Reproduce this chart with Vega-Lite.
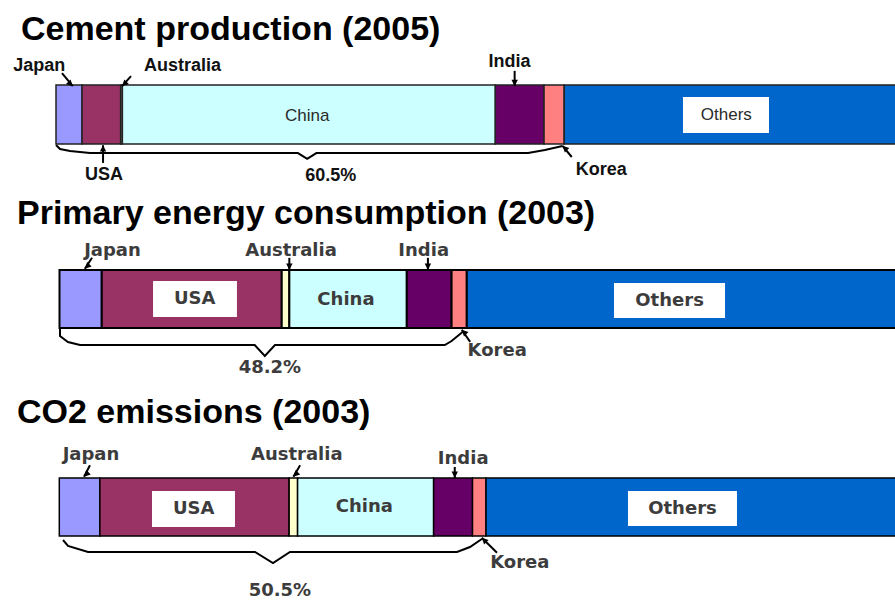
{
  "$schema": "https://vega.github.io/schema/vega-lite/v6.json",
  "padding": {"left": 0, "top": 13, "right": 0, "bottom": 0},
  "spacing": 0,
  "background": "#ffffff",
  "config": {"view": {"stroke": null}},
  "resolve": {"scale": {"x": "independent", "y": "independent"}},
  "datasets": {
    "segments": [
      {"chart": "cement", "country": "Japan", "rank": 1, "share": 3.1},
      {"chart": "cement", "country": "USA", "rank": 2, "share": 4.6},
      {"chart": "cement", "country": "Australia", "rank": 3, "share": 0.2},
      {"chart": "cement", "country": "China", "rank": 4, "share": 44.4},
      {"chart": "cement", "country": "India", "rank": 5, "share": 5.8},
      {"chart": "cement", "country": "Korea", "rank": 6, "share": 2.4},
      {"chart": "cement", "country": "Others", "rank": 7, "share": 39.5},
      {"chart": "energy", "country": "Japan", "rank": 1, "share": 5.0},
      {"chart": "energy", "country": "USA", "rank": 2, "share": 21.3},
      {"chart": "energy", "country": "Australia", "rank": 3, "share": 0.9},
      {"chart": "energy", "country": "China", "rank": 4, "share": 13.9},
      {"chart": "energy", "country": "India", "rank": 5, "share": 5.3},
      {"chart": "energy", "country": "Korea", "rank": 6, "share": 1.8},
      {"chart": "energy", "country": "Others", "rank": 7, "share": 51.8},
      {"chart": "co2", "country": "Japan", "rank": 1, "share": 4.8},
      {"chart": "co2", "country": "USA", "rank": 2, "share": 22.4},
      {"chart": "co2", "country": "Australia", "rank": 3, "share": 1.0},
      {"chart": "co2", "country": "China", "rank": 4, "share": 16.1},
      {"chart": "co2", "country": "India", "rank": 5, "share": 4.6},
      {"chart": "co2", "country": "Korea", "rank": 6, "share": 1.6},
      {"chart": "co2", "country": "Others", "rank": 7, "share": 49.5}
    ],
    "labels": [
      {"chart": "cement", "label": "Japan", "kind": "outer", "x": -2.0, "y": 1.32},
      {"chart": "cement", "label": "Australia", "kind": "outer", "x": 15.06, "y": 1.32},
      {"chart": "cement", "label": "India", "kind": "outer", "x": 54.0, "y": 1.39},
      {"chart": "cement", "label": "USA", "kind": "outer", "x": 5.7, "y": -0.525},
      {"chart": "cement", "label": "Korea", "kind": "outer", "x": 64.9, "y": -0.44},
      {"chart": "cement", "label": "60.5%", "kind": "outer", "x": 32.7, "y": -0.54},
      {"chart": "cement", "label": "China", "kind": "inner", "x": 29.9, "y": 0.47},
      {"chart": "cement", "label": "Others", "kind": "inner", "x": 79.8, "y": 0.49},
      {"chart": "energy", "label": "Japan", "kind": "outer", "x": 6.27, "y": 1.33},
      {"chart": "energy", "label": "Australia", "kind": "outer", "x": 27.4, "y": 1.33},
      {"chart": "energy", "label": "India", "kind": "outer", "x": 43.1, "y": 1.33},
      {"chart": "energy", "label": "Korea", "kind": "outer", "x": 51.8, "y": -0.4},
      {"chart": "energy", "label": "48.2%", "kind": "outer", "x": 24.9, "y": -0.69},
      {"chart": "energy", "label": "USA", "kind": "inner", "x": 16.0, "y": 0.5},
      {"chart": "energy", "label": "China", "kind": "inner", "x": 33.9, "y": 0.48},
      {"chart": "energy", "label": "Others", "kind": "inner", "x": 72.2, "y": 0.47},
      {"chart": "co2", "label": "Japan", "kind": "outer", "x": 3.75, "y": 1.4},
      {"chart": "co2", "label": "Australia", "kind": "outer", "x": 28.1, "y": 1.4},
      {"chart": "co2", "label": "India", "kind": "outer", "x": 47.8, "y": 1.33},
      {"chart": "co2", "label": "Korea", "kind": "outer", "x": 54.5, "y": -0.47},
      {"chart": "co2", "label": "50.5%", "kind": "outer", "x": 26.1, "y": -0.95},
      {"chart": "co2", "label": "USA", "kind": "inner", "x": 15.9, "y": 0.47},
      {"chart": "co2", "label": "China", "kind": "inner", "x": 36.1, "y": 0.5},
      {"chart": "co2", "label": "Others", "kind": "inner", "x": 73.75, "y": 0.47}
    ],
    "boxes": [
      {"chart": "cement", "label": "Others", "x1": 74.64, "x2": 84.88, "y1": 0.186, "y2": 0.797},
      {"chart": "energy", "label": "USA", "x1": 11.07, "x2": 21.0, "y1": 0.19, "y2": 0.81},
      {"chart": "energy", "label": "Others", "x1": 65.62, "x2": 78.76, "y1": 0.172, "y2": 0.776},
      {"chart": "co2", "label": "USA", "x1": 10.97, "x2": 20.79, "y1": 0.155, "y2": 0.776},
      {"chart": "co2", "label": "Others", "x1": 67.3, "x2": 80.2, "y1": 0.172, "y2": 0.776}
    ],
    "arrows": [
      {"chart": "cement", "label": "Japan", "x": 0.71, "y": 1.2, "hx": 2.0, "hy": 0.98, "dir": "downright"},
      {"chart": "cement", "label": "Australia", "x": 8.93, "y": 1.15, "hx": 7.86, "hy": 0.98, "dir": "downleft"},
      {"chart": "cement", "label": "India", "x": 54.6, "y": 1.24, "hx": 54.6, "hy": 0.98, "dir": "down"},
      {"chart": "cement", "label": "USA", "x": 5.6, "y": -0.32, "hx": 5.6, "hy": -0.02, "dir": "up"},
      {"chart": "cement", "label": "Korea", "x": 61.4, "y": -0.22, "hx": 60.3, "hy": -0.03, "dir": "upleft"},
      {"chart": "energy", "label": "Japan", "x": 3.85, "y": 1.21, "hx": 3.0, "hy": 1.02, "dir": "downleft"},
      {"chart": "energy", "label": "Australia", "x": 27.2, "y": 1.21, "hx": 27.2, "hy": 1.0, "dir": "down"},
      {"chart": "energy", "label": "India", "x": 43.6, "y": 1.21, "hx": 43.6, "hy": 1.0, "dir": "down"},
      {"chart": "energy", "label": "Korea", "x": 48.6, "y": -0.24, "hx": 47.6, "hy": -0.03, "dir": "upleft"},
      {"chart": "co2", "label": "Japan", "x": 3.63, "y": 1.22, "hx": 2.92, "hy": 1.02, "dir": "downleft"},
      {"chart": "co2", "label": "Australia", "x": 28.5, "y": 1.22, "hx": 27.7, "hy": 1.02, "dir": "downleft"},
      {"chart": "co2", "label": "India", "x": 46.8, "y": 1.19, "hx": 46.8, "hy": 1.0, "dir": "down"},
      {"chart": "co2", "label": "Korea", "x": 51.8, "y": -0.29, "hx": 50.0, "hy": -0.03, "dir": "upleft"}
    ],
    "braces": [
      {"chart": "cement", "i": 1, "x": 0.0, "y": -0.017},
      {"chart": "cement", "i": 2, "x": 0.48, "y": -0.085},
      {"chart": "cement", "i": 3, "x": 1.67, "y": -0.12},
      {"chart": "cement", "i": 4, "x": 4.05, "y": -0.153},
      {"chart": "cement", "i": 5, "x": 28.8, "y": -0.153},
      {"chart": "cement", "i": 6, "x": 29.9, "y": -0.25},
      {"chart": "cement", "i": 7, "x": 31.0, "y": -0.153},
      {"chart": "cement", "i": 8, "x": 56.2, "y": -0.153},
      {"chart": "cement", "i": 9, "x": 58.2, "y": -0.1},
      {"chart": "cement", "i": 10, "x": 60.3, "y": -0.034},
      {"chart": "energy", "i": 1, "x": 0.06, "y": -0.017},
      {"chart": "energy", "i": 2, "x": 0.06, "y": -0.138},
      {"chart": "energy", "i": 3, "x": 1.0, "y": -0.241},
      {"chart": "energy", "i": 4, "x": 2.43, "y": -0.293},
      {"chart": "energy", "i": 5, "x": 23.1, "y": -0.293},
      {"chart": "energy", "i": 6, "x": 24.3, "y": -0.483},
      {"chart": "energy", "i": 7, "x": 25.5, "y": -0.293},
      {"chart": "energy", "i": 8, "x": 45.6, "y": -0.293},
      {"chart": "energy", "i": 9, "x": 46.4, "y": -0.224},
      {"chart": "energy", "i": 10, "x": 47.7, "y": -0.069},
      {"chart": "co2", "i": 1, "x": 0.44, "y": -0.069},
      {"chart": "co2", "i": 2, "x": 1.03, "y": -0.172},
      {"chart": "co2", "i": 3, "x": 3.4, "y": -0.276},
      {"chart": "co2", "i": 4, "x": 23.16, "y": -0.276},
      {"chart": "co2", "i": 5, "x": 25.29, "y": -0.466},
      {"chart": "co2", "i": 6, "x": 27.3, "y": -0.276},
      {"chart": "co2", "i": 7, "x": 47.07, "y": -0.276},
      {"chart": "co2", "i": 8, "x": 48.6, "y": -0.19},
      {"chart": "co2", "i": 9, "x": 50.0, "y": -0.052}
    ]
  },
  "vconcat": [
    {
      "width": 895,
      "height": 148,
      "title": {"text": "Cement production (2005)", "anchor": "start", "font": "Liberation Sans", "fontSize": 34, "fontWeight": "bold", "color": "#000000", "baseline": "top", "offset": 2, "dx": 21},
      "layer": [
        {
          "data": {"name": "segments"},
          "transform": [
            {"filter": "datum.chart === 'cement'"},
            {"stack": "share", "groupby": ["chart"], "sort": [{"field": "rank", "order": "ascending"}], "as": ["start", "end"]}
          ],
          "mark": {"type": "rect", "stroke": "#222222", "strokeWidth": 1.5, "clip": true},
          "encoding": {
            "x": {"field": "start", "type": "quantitative", "scale": {"domain": [-6.667, 99.88], "nice": false, "zero": false}, "axis": null},
            "x2": {"field": "end"},
            "y": {"datum": 0, "type": "quantitative", "scale": {"domain": [-0.898, 1.61], "nice": false, "zero": false}, "axis": null},
            "y2": {"datum": 1},
            "color": {"field": "country", "type": "nominal", "legend": null, "scale": {"domain": ["Japan", "USA", "Australia", "China", "India", "Korea", "Others"], "range": ["#9999ff", "#993366", "#ffffcc", "#ccffff", "#660066", "#ff8080", "#0066cc"]}}
          }
        },
        {
          "data": {"name": "boxes"},
          "transform": [{"filter": "datum.chart === 'cement'"}],
          "mark": {"type": "rect", "color": "#ffffff"},
          "encoding": {
            "x": {"field": "x1", "type": "quantitative"},
            "x2": {"field": "x2"},
            "y": {"field": "y1", "type": "quantitative"},
            "y2": {"field": "y2"}
          }
        },
        {
          "data": {"name": "braces"},
          "transform": [{"filter": "datum.chart === 'cement'"}],
          "mark": {"type": "line", "color": "#000000", "strokeWidth": 2},
          "encoding": {
            "x": {"field": "x", "type": "quantitative"},
            "y": {"field": "y", "type": "quantitative"},
            "order": {"field": "i", "type": "quantitative"}
          }
        },
        {
          "data": {"name": "arrows"},
          "transform": [{"filter": "datum.chart === 'cement'"}],
          "mark": {"type": "rule", "color": "#000000", "strokeWidth": 2},
          "encoding": {
            "x": {"field": "x", "type": "quantitative"},
            "y": {"field": "y", "type": "quantitative"},
            "x2": {"field": "hx"},
            "y2": {"field": "hy"}
          }
        },
        {
          "data": {"name": "arrows"},
          "transform": [{"filter": "datum.chart === 'cement'"}],
          "mark": {"type": "point", "filled": true, "color": "#000000", "opacity": 1, "size": 64, "strokeWidth": 0},
          "encoding": {
            "x": {"field": "hx", "type": "quantitative"},
            "y": {"field": "hy", "type": "quantitative"},
            "shape": {"field": "dir", "type": "nominal", "legend": null, "scale": {"domain": ["down", "up", "downright", "downleft", "upleft"], "range": ["M0,0L-0.8,-1.6L0.8,-1.6Z", "M0,0L-0.8,1.6L0.8,1.6Z", "M0,0L-0.57,-1.7L-1.7,-0.57Z", "M0,0L0.57,-1.7L1.7,-0.57Z", "M0,0L0.57,1.7L1.7,0.57Z"]}}
          }
        },
        {
          "data": {"name": "labels"},
          "transform": [{"filter": "datum.chart === 'cement' && datum.kind === 'outer'"}],
          "mark": {"type": "text", "font": "Liberation Sans", "fontWeight": "bold", "fontSize": 18, "color": "#111111", "align": "center", "baseline": "middle"},
          "encoding": {
            "x": {"field": "x", "type": "quantitative"},
            "y": {"field": "y", "type": "quantitative"},
            "text": {"field": "label", "type": "nominal"}
          }
        },
        {
          "data": {"name": "labels"},
          "transform": [{"filter": "datum.chart === 'cement' && datum.kind === 'inner'"}],
          "mark": {"type": "text", "font": "Liberation Sans", "fontWeight": "normal", "fontSize": 17, "color": "#2a2a2a", "align": "center", "baseline": "middle"},
          "encoding": {
            "x": {"field": "x", "type": "quantitative"},
            "y": {"field": "y", "type": "quantitative"},
            "text": {"field": "label", "type": "nominal"}
          }
        }
      ]
    },
    {
      "width": 895,
      "height": 163,
      "title": {"text": "Primary energy consumption (2003)", "anchor": "start", "font": "Liberation Sans", "fontSize": 34, "fontWeight": "bold", "color": "#000000", "baseline": "top", "offset": 2, "dx": 17},
      "layer": [
        {
          "data": {"name": "segments"},
          "transform": [
            {"filter": "datum.chart === 'energy'"},
            {"stack": "share", "groupby": ["chart"], "sort": [{"field": "rank", "order": "ascending"}], "as": ["start", "end"]}
          ],
          "mark": {"type": "rect", "stroke": "#000000", "strokeWidth": 2, "clip": true},
          "encoding": {
            "x": {"field": "start", "type": "quantitative", "scale": {"domain": [-7.041, 98.876], "nice": false, "zero": false}, "axis": null},
            "x2": {"field": "end"},
            "y": {"datum": 0, "type": "quantitative", "scale": {"domain": [-1.172, 1.638], "nice": false, "zero": false}, "axis": null},
            "y2": {"datum": 1},
            "color": {"field": "country", "type": "nominal", "legend": null, "scale": {"domain": ["Japan", "USA", "Australia", "China", "India", "Korea", "Others"], "range": ["#9999ff", "#993366", "#ffffcc", "#ccffff", "#660066", "#ff8080", "#0066cc"]}}
          }
        },
        {
          "data": {"name": "boxes"},
          "transform": [{"filter": "datum.chart === 'energy'"}],
          "mark": {"type": "rect", "color": "#ffffff"},
          "encoding": {
            "x": {"field": "x1", "type": "quantitative"},
            "x2": {"field": "x2"},
            "y": {"field": "y1", "type": "quantitative"},
            "y2": {"field": "y2"}
          }
        },
        {
          "data": {"name": "braces"},
          "transform": [{"filter": "datum.chart === 'energy'"}],
          "mark": {"type": "line", "color": "#000000", "strokeWidth": 2},
          "encoding": {
            "x": {"field": "x", "type": "quantitative"},
            "y": {"field": "y", "type": "quantitative"},
            "order": {"field": "i", "type": "quantitative"}
          }
        },
        {
          "data": {"name": "arrows"},
          "transform": [{"filter": "datum.chart === 'energy'"}],
          "mark": {"type": "rule", "color": "#000000", "strokeWidth": 2},
          "encoding": {
            "x": {"field": "x", "type": "quantitative"},
            "y": {"field": "y", "type": "quantitative"},
            "x2": {"field": "hx"},
            "y2": {"field": "hy"}
          }
        },
        {
          "data": {"name": "arrows"},
          "transform": [{"filter": "datum.chart === 'energy'"}],
          "mark": {"type": "point", "filled": true, "color": "#000000", "opacity": 1, "size": 64, "strokeWidth": 0},
          "encoding": {
            "x": {"field": "hx", "type": "quantitative"},
            "y": {"field": "hy", "type": "quantitative"},
            "shape": {"field": "dir", "type": "nominal", "legend": null, "scale": {"domain": ["down", "up", "downright", "downleft", "upleft"], "range": ["M0,0L-0.8,-1.6L0.8,-1.6Z", "M0,0L-0.8,1.6L0.8,1.6Z", "M0,0L-0.57,-1.7L-1.7,-0.57Z", "M0,0L0.57,-1.7L1.7,-0.57Z", "M0,0L0.57,1.7L1.7,0.57Z"]}}
          }
        },
        {
          "data": {"name": "labels"},
          "transform": [{"filter": "datum.chart === 'energy'"}],
          "mark": {"type": "text", "font": "DejaVu Sans", "fontWeight": "bold", "fontSize": 18, "color": "#3c3c3c", "align": "center", "baseline": "middle"},
          "encoding": {
            "x": {"field": "x", "type": "quantitative"},
            "y": {"field": "y", "type": "quantitative"},
            "text": {"field": "label", "type": "nominal"}
          }
        }
      ]
    },
    {
      "width": 895,
      "height": 169,
      "title": {"text": "CO2 emissions (2003)", "anchor": "start", "font": "Liberation Sans", "fontSize": 34, "fontWeight": "bold", "color": "#000000", "baseline": "top", "offset": 2, "dx": 17},
      "layer": [
        {
          "data": {"name": "segments"},
          "transform": [
            {"filter": "datum.chart === 'co2'"},
            {"stack": "share", "groupby": ["chart"], "sort": [{"field": "rank", "order": "ascending"}], "as": ["start", "end"]}
          ],
          "mark": {"type": "rect", "stroke": "#000000", "strokeWidth": 1.5, "clip": true},
          "encoding": {
            "x": {"field": "start", "type": "quantitative", "scale": {"domain": [-7.018, 98.9], "nice": false, "zero": false}, "axis": null},
            "x2": {"field": "end"},
            "y": {"datum": 0, "type": "quantitative", "scale": {"domain": [-1.121, 1.793], "nice": false, "zero": false}, "axis": null},
            "y2": {"datum": 1},
            "color": {"field": "country", "type": "nominal", "legend": null, "scale": {"domain": ["Japan", "USA", "Australia", "China", "India", "Korea", "Others"], "range": ["#9999ff", "#993366", "#ffffcc", "#ccffff", "#660066", "#ff8080", "#0066cc"]}}
          }
        },
        {
          "data": {"name": "boxes"},
          "transform": [{"filter": "datum.chart === 'co2'"}],
          "mark": {"type": "rect", "color": "#ffffff"},
          "encoding": {
            "x": {"field": "x1", "type": "quantitative"},
            "x2": {"field": "x2"},
            "y": {"field": "y1", "type": "quantitative"},
            "y2": {"field": "y2"}
          }
        },
        {
          "data": {"name": "braces"},
          "transform": [{"filter": "datum.chart === 'co2'"}],
          "mark": {"type": "line", "color": "#000000", "strokeWidth": 2},
          "encoding": {
            "x": {"field": "x", "type": "quantitative"},
            "y": {"field": "y", "type": "quantitative"},
            "order": {"field": "i", "type": "quantitative"}
          }
        },
        {
          "data": {"name": "arrows"},
          "transform": [{"filter": "datum.chart === 'co2'"}],
          "mark": {"type": "rule", "color": "#000000", "strokeWidth": 2},
          "encoding": {
            "x": {"field": "x", "type": "quantitative"},
            "y": {"field": "y", "type": "quantitative"},
            "x2": {"field": "hx"},
            "y2": {"field": "hy"}
          }
        },
        {
          "data": {"name": "arrows"},
          "transform": [{"filter": "datum.chart === 'co2'"}],
          "mark": {"type": "point", "filled": true, "color": "#000000", "opacity": 1, "size": 64, "strokeWidth": 0},
          "encoding": {
            "x": {"field": "hx", "type": "quantitative"},
            "y": {"field": "hy", "type": "quantitative"},
            "shape": {"field": "dir", "type": "nominal", "legend": null, "scale": {"domain": ["down", "up", "downright", "downleft", "upleft"], "range": ["M0,0L-0.8,-1.6L0.8,-1.6Z", "M0,0L-0.8,1.6L0.8,1.6Z", "M0,0L-0.57,-1.7L-1.7,-0.57Z", "M0,0L0.57,-1.7L1.7,-0.57Z", "M0,0L0.57,1.7L1.7,0.57Z"]}}
          }
        },
        {
          "data": {"name": "labels"},
          "transform": [{"filter": "datum.chart === 'co2'"}],
          "mark": {"type": "text", "font": "DejaVu Sans", "fontWeight": "bold", "fontSize": 18, "color": "#3c3c3c", "align": "center", "baseline": "middle"},
          "encoding": {
            "x": {"field": "x", "type": "quantitative"},
            "y": {"field": "y", "type": "quantitative"},
            "text": {"field": "label", "type": "nominal"}
          }
        }
      ]
    }
  ]
}
